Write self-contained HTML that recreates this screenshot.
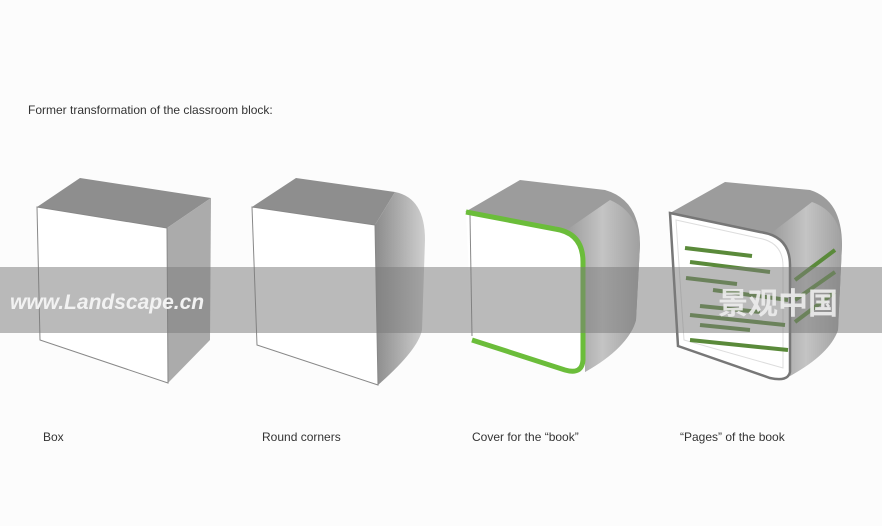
<!DOCTYPE html>
<html><head><meta charset="utf-8"><style>
html,body{margin:0;padding:0;background:#fff;}
svg{display:block;}
</style></head><body>
<svg width="882" height="526" viewBox="0 0 882 526" xmlns="http://www.w3.org/2000/svg">
<defs>
<linearGradient id="rg" x1="0" y1="0" x2="1" y2="0">
<stop offset="0" stop-color="#8c8c8c"/><stop offset="0.6" stop-color="#b4b4b4"/><stop offset="1" stop-color="#cfcfcf"/>
</linearGradient>
<linearGradient id="rg2" x1="0" y1="0" x2="1" y2="0">
<stop offset="0" stop-color="#9a9a9a"/><stop offset="0.5" stop-color="#c4c4c4"/><stop offset="1" stop-color="#a0a0a0"/>
</linearGradient>
</defs>
<rect width="882" height="526" fill="#fcfcfc"/>
<text x="28" y="114" font-family="Liberation Sans, sans-serif" font-size="12" fill="#333">Former transformation of the classroom block:</text>

<!-- Box 1 -->
<polygon points="37,207 80,178 211,198 167,228" fill="#8e8e8e"/>
<polygon points="167,228 211,198 210,340 168,383" fill="#ababab"/>
<polygon points="37,207 167,228 168,383 40,340" fill="#fff" stroke="#888" stroke-width="1"/>

<!-- Box 2 -->
<polygon points="252,207 296,178 395,192 375,225" fill="#8e8e8e"/>
<path d="M375,225 L395,192 Q425,198 425,240 L422,330 Q418,350 378,385 Z" fill="url(#rg)"/>
<polygon points="252,207 375,225 378,385 257,345" fill="#fff" stroke="#888" stroke-width="1"/>

<!-- Box 3 -->
<path d="M465,212 L520,180 L605,190 Q640,200 640,245 L636,320 Q630,345 585,372 L585,262 Q583,232 555,229 Z" fill="#9c9c9c"/>
<path d="M565,231 Q585,236 585,262 L585,372 Q628,348 636,320 L640,245 Q638,212 610,200 Z" fill="url(#rg2)"/>
<path d="M466,212 L555,229 Q583,233 583,262 L583,360 Q582,375 565,370 L472,340" fill="#fff" stroke="#6bbd3a" stroke-width="5" stroke-linejoin="round"/>
<line x1="470" y1="215" x2="472" y2="336" stroke="#888" stroke-width="1"/>

<!-- Box 4 -->
<path d="M670,213 L725,182 L810,190 Q842,200 842,245 L838,330 Q830,352 790,376 L790,262 Q788,236 760,232 Z" fill="#9c9c9c"/>
<path d="M770,234 Q790,238 790,262 L790,376 Q830,354 838,330 L842,245 Q840,212 812,202 Z" fill="url(#rg2)"/>
<path d="M670,213 L760,232 Q790,236 790,265 L790,372 Q788,382 770,378 L678,346 Z" fill="#fff" stroke="#777" stroke-width="2.5"/>
<path d="M676,220 L758,238 Q783,242 783,266 L783,368 L684,340 Z" fill="none" stroke="#ddd" stroke-width="1"/>
<g stroke="#5a8a3a" stroke-width="4">
<line x1="685" y1="248" x2="752" y2="256"/>
<line x1="690" y1="262" x2="770" y2="272"/>
<line x1="686" y1="278" x2="737" y2="284"/>
<line x1="713" y1="290" x2="788" y2="300"/>
<line x1="700" y1="306" x2="760" y2="312"/>
<line x1="690" y1="315" x2="785" y2="325"/>
<line x1="700" y1="325" x2="750" y2="330"/>
<line x1="690" y1="340" x2="788" y2="350"/>
<line x1="795" y1="280" x2="835" y2="250"/>
<line x1="795" y1="300" x2="835" y2="272"/>
<line x1="795" y1="322" x2="835" y2="292"/>
</g>

<!-- watermark band -->
<rect x="0" y="267" width="882" height="66" fill="#7a7a7a" opacity="0.52"/>
<text x="10" y="309" font-family="Liberation Sans, sans-serif" font-size="21" font-style="italic" font-weight="bold" fill="#f2f2f2">www.Landscape.cn</text>
<text x="718" y="314" font-family="Liberation Sans, 'Noto Sans CJK SC', sans-serif" font-size="30" font-weight="bold" fill="#eeeeee" opacity="0.9">景观中国</text>

<g font-family="Liberation Sans, sans-serif" font-size="12" fill="#333">
<text x="43" y="441">Box</text>
<text x="262" y="441">Round corners</text>
<text x="472" y="441">Cover for the “book”</text>
<text x="680" y="441">“Pages” of the book</text>
</g>
</svg>
</body></html>
